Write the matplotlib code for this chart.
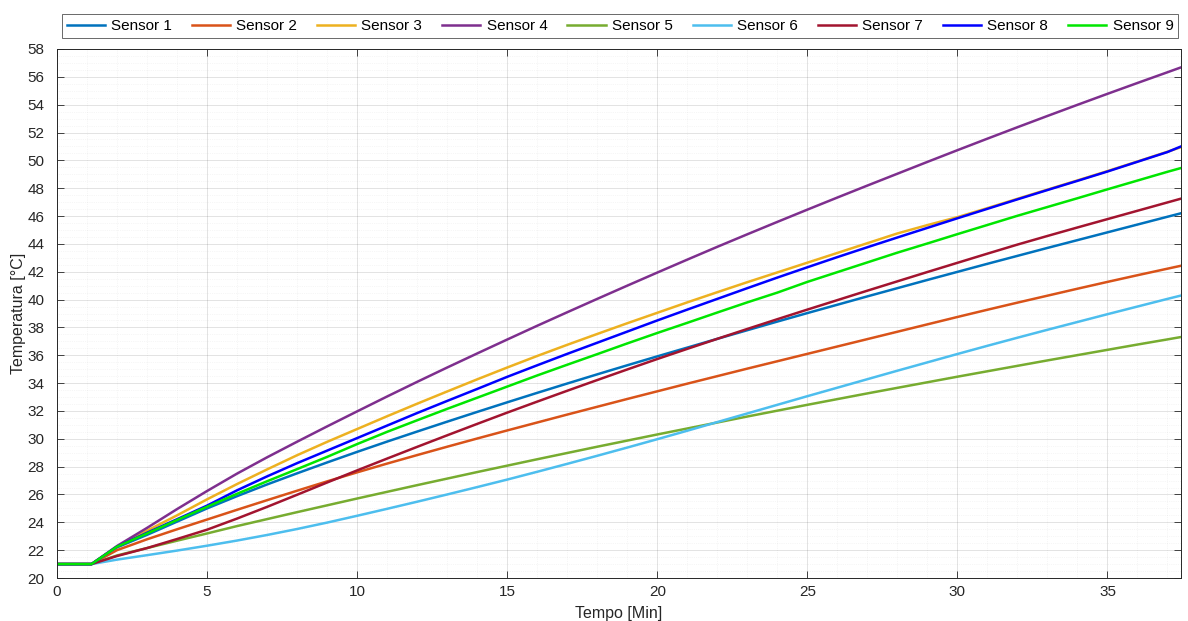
import matplotlib
matplotlib.use("Agg")
import matplotlib.pyplot as plt
from matplotlib.ticker import MultipleLocator

plt.rcParams['font.family'] = ['Liberation Sans', 'DejaVu Sans']

# time in minutes
tempo = [0, 1.15] + list(range(2, 38)) + [37.45]

sensor1 = [21, 21, 22.2, 23.1, 24.05, 25.0, 25.88, 26.72, 27.52, 28.3, 29.06,
           29.8, 30.52, 31.23, 31.93, 32.62, 33.3, 33.97, 34.63, 35.28, 35.92,
           36.55, 37.18, 37.8, 38.42, 39.03, 39.63, 40.23, 40.82, 41.41, 41.99,
           42.57, 43.14, 43.71, 44.27, 44.83, 45.39, 45.95, 46.2]
sensor2 = [21, 21, 22.0, 22.78, 23.5, 24.2, 24.9, 25.59, 26.27, 26.94, 27.59,
           28.22, 28.83, 29.43, 30.02, 30.6, 31.17, 31.74, 32.3, 32.86, 33.41,
           33.96, 34.5, 35.04, 35.57, 36.1, 36.63, 37.16, 37.69, 38.22, 38.75,
           39.27, 39.78, 40.28, 40.78, 41.27, 41.75, 42.22, 42.43]
sensor3 = [21, 21, 22.25, 23.4, 24.5, 25.65, 26.75, 27.8, 28.82, 29.78, 30.7,
           31.62, 32.52, 33.4, 34.27, 35.12, 35.95, 36.75, 37.53, 38.3, 39.05,
           39.8, 40.53, 41.25, 41.95, 42.65, 43.35, 44.05, 44.75, 45.35, 45.92,
           46.57, 47.24, 47.9, 48.56, 49.23, 49.92, 50.62, 50.95]
sensor4 = [21, 21, 22.3, 23.6, 24.95, 26.25, 27.5, 28.67, 29.79, 30.89, 31.97,
           33.04, 34.09, 35.12, 36.13, 37.13, 38.12, 39.09, 40.05, 41.0, 41.94,
           42.87, 43.79, 44.69, 45.58, 46.46, 47.33, 48.19, 49.04, 49.89, 50.73,
           51.56, 52.38, 53.19, 53.99, 54.78, 55.56, 56.33, 56.68]
sensor5 = [21, 21, 21.62, 22.15, 22.68, 23.2, 23.73, 24.23, 24.73, 25.22, 25.71,
           26.19, 26.67, 27.14, 27.61, 28.07, 28.53, 28.98, 29.43, 29.87, 30.31,
           30.74, 31.17, 31.6, 32.02, 32.44, 32.85, 33.26, 33.66, 34.06, 34.46,
           34.85, 35.24, 35.63, 36.01, 36.39, 36.77, 37.14, 37.31]
sensor6 = [21, 21, 21.32, 21.64, 21.97, 22.32, 22.69, 23.09, 23.52, 23.98, 24.47,
           24.97, 25.48, 26.0, 26.53, 27.07, 27.63, 28.2, 28.78, 29.37, 29.97,
           30.58, 31.2, 31.82, 32.44, 33.06, 33.67, 34.28, 34.89, 35.49, 36.09,
           36.68, 37.26, 37.83, 38.39, 38.95, 39.5, 40.05, 40.29]
sensor7 = [21, 21, 21.58, 22.15, 22.8, 23.47, 24.27, 25.11, 25.98, 26.86, 27.73,
           28.58, 29.42, 30.25, 31.07, 31.88, 32.67, 33.45, 34.22, 34.98, 35.73,
           36.46, 37.18, 37.89, 38.59, 39.28, 39.96, 40.64, 41.31, 41.98, 42.64,
           43.3, 43.95, 44.57, 45.18, 45.78, 46.38, 46.98, 47.25]
sensor8 = [21, 21, 22.25, 23.25, 24.22, 25.2, 26.3, 27.3, 28.25, 29.15, 30.05,
           30.95, 31.85, 32.72, 33.58, 34.45, 35.28, 36.1, 36.9, 37.7, 38.5,
           39.28, 40.05, 40.82, 41.58, 42.32, 43.05, 43.76, 44.46, 45.15, 45.84,
           46.52, 47.2, 47.87, 48.53, 49.2, 49.9, 50.6, 51.0]
sensor9 = [21, 21, 22.25, 23.2, 24.17, 25.12, 26.05, 26.95, 27.82, 28.7, 29.62,
           30.5, 31.33, 32.15, 32.95, 33.75, 34.55, 35.32, 36.08, 36.85, 37.6,
           38.33, 39.07, 39.8, 40.5, 41.27, 41.97, 42.67, 43.37, 44.03, 44.7,
           45.36, 46.02, 46.65, 47.28, 47.92, 48.55, 49.18, 49.45]

labels = ['Sensor 1', 'Sensor 2', 'Sensor 3', 'Sensor 4', 'Sensor 5',
          'Sensor 6', 'Sensor 7', 'Sensor 8', 'Sensor 9']
colors = ['#0072BD', '#D95319', '#EDB120', '#7E2F8E', '#77AC30',
          '#4DBEEE', '#A2142F', '#0000FF', '#00E600']
series = [sensor1, sensor2, sensor3, sensor4, sensor5,
          sensor6, sensor7, sensor8, sensor9]

fig = plt.figure(figsize=(11.88, 6.21), dpi=100)
ax = fig.add_axes([57/1188, 1 - 578/621, (1181 - 57)/1188, (578 - 49)/621])

for y, lab, c in zip(series, labels, colors):
    ax.plot(tempo, y, color=c, lw=1.8, label=lab)

ax.set_xlim(0, 37.45)
ax.set_ylim(20, 58)
ax.xaxis.set_major_locator(MultipleLocator(5))
ax.xaxis.set_minor_locator(MultipleLocator(1))
ax.yaxis.set_major_locator(MultipleLocator(2))
ax.yaxis.set_minor_locator(MultipleLocator(0.5))

ax.grid(which='major', color='#262626', alpha=0.15, lw=0.6)
ax.grid(which='minor', color='#262626', alpha=0.08, lw=0.5, ls=':')
ax.set_axisbelow(True)

ax.tick_params(which='major', direction='in', length=5, width=0.6,
               top=True, right=True, colors='#262626', labelsize=11)
ax.tick_params(axis='y', which='major', pad=9)
ax.tick_params(axis='x', which='major', pad=5)
ax.tick_params(which='minor', length=0)
for s in ax.spines.values():
    s.set_color('#262626')
    s.set_linewidth(0.7)

ax.set_xlabel('Tempo [Min]', fontsize=11.5, color='#262626', labelpad=5)
ax.set_ylabel('Temperatura [°C]', fontsize=11.5, color='#262626', labelpad=1)

handles, labs = ax.get_legend_handles_labels()
leg = fig.legend(handles, labs, ncol=9, loc='center',
                 bbox_to_anchor=(62/1188, 1 - 38/621, (1178 - 62)/1188, 24/621),
                 mode='expand', fontsize=11, frameon=True, fancybox=False,
                 edgecolor='#262626', handlelength=2.5, handletextpad=0.4,
                 columnspacing=0.5, borderpad=0.3, borderaxespad=0)
leg.get_frame().set_linewidth(0.6)

fig.savefig('out.png', dpi=100)
